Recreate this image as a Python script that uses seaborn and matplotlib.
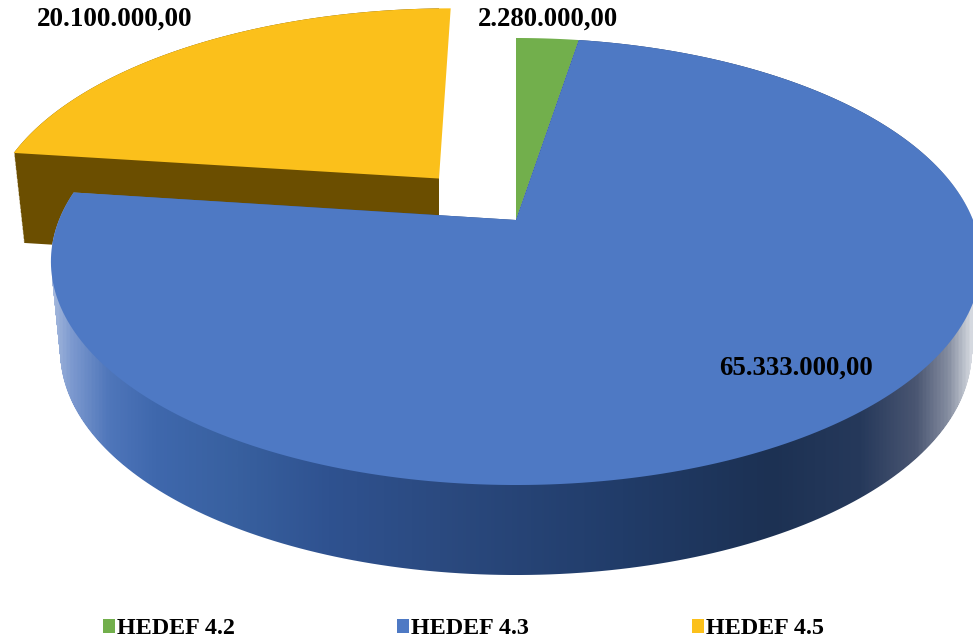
import numpy as np
import matplotlib
matplotlib.use("Agg")
import matplotlib.pyplot as plt
import seaborn as sns
from matplotlib.path import Path
from matplotlib.patches import PathPatch, Patch, Rectangle
from matplotlib.transforms import Transform, Affine2D
from matplotlib.colors import LinearSegmentedColormap

categories = ["HEDEF 4.2", "HEDEF 4.3", "HEDEF 4.5"]
values = [2280000.0, 65333000.0, 20100000.0]
value_labels = ["2.280.000,00", "65.333.000,00", "20.100.000,00"]
explode = [0, 0, 0.265]
top_colors = ["#72AF4C", "#4E79C4", "#FBC01B"]
side_colors = ["#3F6A28", None, "#6B4E00"]

sns.set_theme(style="white")
plt.rcParams["font.family"] = ["Liberation Serif", "DejaVu Serif"]

APEX_X, APEX_Y = 516.0, 220.0
A, B, K = 457.0, 215.8, 0.1857
DEPTH = 90.0


class Perspective(Transform):
    input_dims = output_dims = 2
    is_separable = False
    has_inverse = False

    def transform_non_affine(self, xy):
        xy = np.asarray(xy, float)
        w = 1 + K * xy[:, 1]
        return np.column_stack([APEX_X + A * xy[:, 0] / w, APEX_Y - B * xy[:, 1] / w])

    def transform_path_non_affine(self, path):
        polys = path.to_polygons(transform=Affine2D().scale(3000), closed_only=True)
        verts = np.vstack(polys) / 3000.0
        return Path(self.transform_non_affine(verts), closed=True)


persp = Perspective()


def extrude(wedge):
    flat = persp.transform_path_non_affine(wedge.get_path())
    layers = []
    for t in np.linspace(0, 1, 70):
        m = (Affine2D().translate(-APEX_X, 0).scale(1 - 0.02 * t, 1)
             .translate(APEX_X, DEPTH * t))
        layers.append(flat.transformed(m))
    return Path.make_compound_path(*layers)


fig = plt.figure(figsize=(9.73, 6.44), dpi=100, facecolor="white")
ax = fig.add_axes([0, 0, 1, 1])

wedges, _ = ax.pie(values, explode=explode, startangle=90, counterclock=False,
                   radius=1, colors=top_colors, wedgeprops={"linewidth": 0})

for i, (wedge, zt, zs) in enumerate(zip(wedges, [2, 6, 4], [1, 5, 3])):
    wedge.set_transform(persp + ax.transData)
    wedge.set_zorder(zt)
    wedge.set_clip_on(True)
    side = extrude(wedge)
    if side_colors[i] is not None:
        patch = PathPatch(side, fc=side_colors[i], ec="none", zorder=zs)
        ax.add_patch(patch)
        apex_x = persp.transform_non_affine(np.array([wedge.center]))[0, 0]
        patch.set_clip_path(Rectangle((0, 0), apex_x, 644, transform=ax.transData))
    else:
        stops = [(0.0, "#A3B7DC"), (0.02, "#7C99CF"), (0.06, "#4F76BA"), (0.11, "#3F68AD"),
                 (0.20, "#38609F"), (0.30, "#2F5290"), (0.42, "#2B4A80"),
                 (0.62, "#213C69"), (0.78, "#1C3153"), (0.88, "#26395B"),
                 (0.94, "#4A5672"), (0.975, "#858DA0"), (1.0, "#D5D9E0")]
        cmap = LinearSegmentedColormap.from_list("side", stops)
        grad = np.linspace(0, 1, 512)[None, :]
        im = ax.imshow(grad, cmap=cmap, extent=(52, 973, 644, 0), aspect="auto",
                       interpolation="bilinear", zorder=zs)
        clip = PathPatch(side, transform=ax.transData, fc="none", ec="none")
        im.set_clip_path(clip)

ax.set_aspect("auto")
ax.set_xlim(0, 973)
ax.set_ylim(644, 0)
ax.axis("off")

font = dict(fontweight="bold", color="black", va="center", ha="left", zorder=8)
ax.text(478, 19, value_labels[0], fontsize=19.3, **font)
ax.text(719, 368, value_labels[1], fontsize=19.4, **font)
ax.text(37, 19, value_labels[2], fontsize=19.6, **font)

handles = [Patch(fc=c, ec="none") for c in top_colors]
ax.legend(handles, categories, ncol=3, loc="center left",
          bbox_to_anchor=(103, 629), bbox_transform=ax.transData, frameon=False,
          prop={"family": "Liberation Serif", "weight": "bold", "size": 17.4},
          handlelength=0.5, handleheight=0.5, handletextpad=0.08,
          columnspacing=6.72, borderpad=0, borderaxespad=0, labelcolor="black")

fig.savefig("out.png", dpi=100, facecolor="white")
